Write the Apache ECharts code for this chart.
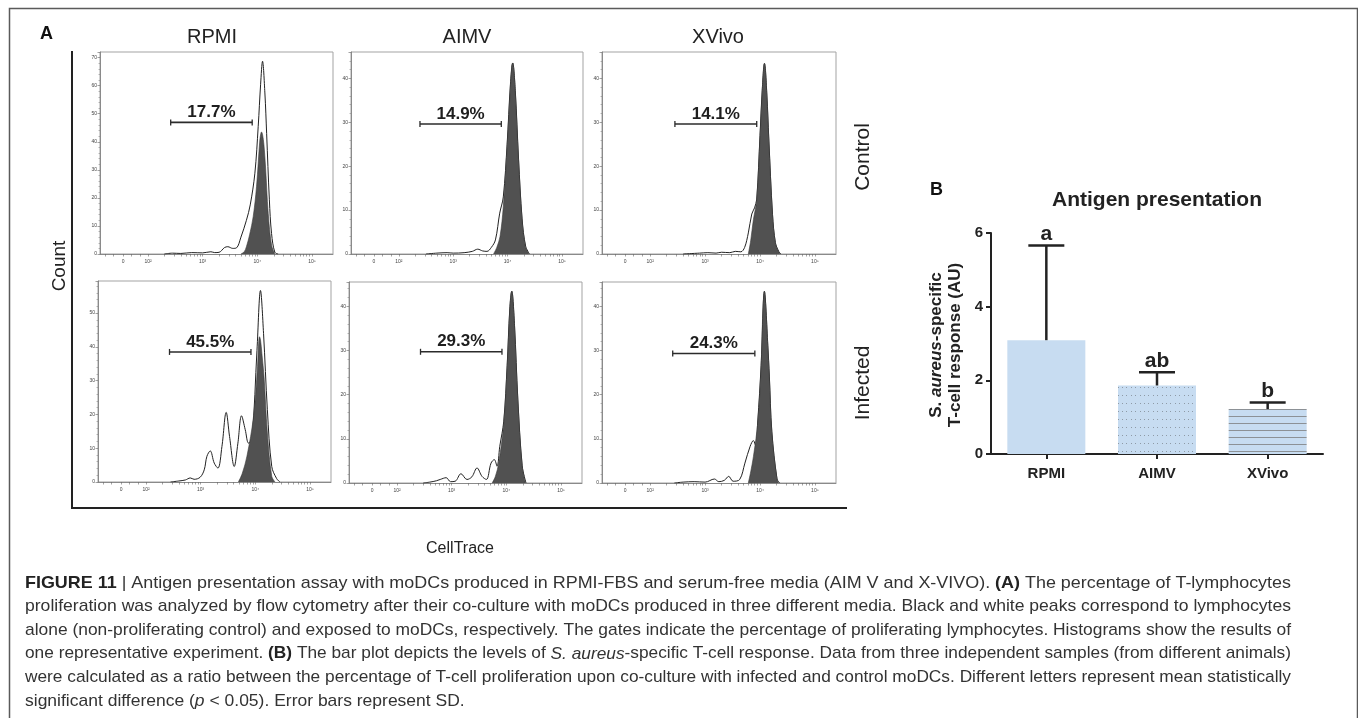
<!DOCTYPE html>
<html><head><meta charset="utf-8">
<script src="https://cdn.jsdelivr.net/npm/echarts@6/dist/echarts.min.js"></script>
<style>html,body{margin:0;padding:0;background:#fff}#c{width:1358px;height:718px}</style>
</head><body><div id="c"></div>
<script>
// ---------------- DATA ----------------
const columnTitles = ['RPMI', 'AIMV', 'XVivo'];
const rowTitles = ['Control', 'Infected'];
// Histograms: [CellTrace position in log10 (biexponential display) units, count]
// dark filled = lymphocytes alone ; white outlined = exposed to moDCs
const rpmiControlAlone = [[3.70,0],[3.76,0.8],[3.80,2.6],[3.86,7],[3.924,13.3],[3.985,24],[4.046,40.7],[4.065,43],[4.077,43.5],[4.095,42.6],[4.12,39],[4.15,31],[4.199,14.5],[4.26,3.2],[4.32,0]];
const rpmiControlExposed = [[2.30,0],[2.45,0.3],[2.60,0.2],[2.80,0.5],[3.00,0.4],[3.15,0.8],[3.22,0.5],[3.30,0.6],[3.40,2.3],[3.46,2.6],[3.55,2.0],[3.62,2.2],[3.70,6],[3.80,12],[3.87,17.5],[3.955,28.8],[4.016,45.5],[4.06,60.5],[4.095,68.7],[4.138,57.4],[4.17,43],[4.22,19.3],[4.26,7.3],[4.32,0.6],[4.38,0]];
const aimvControlAlone = [[3.74,0],[3.80,1.5],[3.86,4],[3.92,10.8],[3.99,24.5],[4.05,38],[4.075,42.8],[4.093,43.5],[4.11,42.5],[4.14,37],[4.20,21.4],[4.265,7.8],[4.326,1.7],[4.39,0]];
const aimvControlExposed = [[2.50,0],[2.70,0.2],[2.887,0.3],[3.00,0.2],[3.20,0.3],[3.35,0.6],[3.45,1.1],[3.54,0.7],[3.62,0.6],[3.70,1.5],[3.775,3.2],[3.854,9.3],[3.92,13],[3.99,25],[4.05,38.5],[4.093,43.5],[4.14,37.2],[4.20,21.6],[4.265,8],[4.33,1.8],[4.40,0]];
const xvivoControlAlone = [[3.787,0],[3.83,3],[3.879,7.8],[3.94,12.3],[4.00,26.7],[4.04,37],[4.065,42.5],[4.081,43.4],[4.10,42],[4.125,36],[4.16,26],[4.228,8.9],[4.28,2.5],[4.34,0.5],[4.37,0]];
const xvivoControlExposed = [[2.60,0],[2.90,0.2],[3.05,0.3],[3.20,0.2],[3.30,0.4],[3.45,0.3],[3.55,0.6],[3.65,0.5],[3.72,1.5],[3.787,4.8],[3.85,9.1],[3.90,10.5],[3.94,12.5],[4.00,27],[4.04,37.2],[4.081,43.4],[4.125,36.2],[4.16,26.2],[4.228,9],[4.28,2.6],[4.34,0.6],[4.38,0]];
const rpmiInfectedAlone = [[3.69,0],[3.76,2.5],[3.846,7.6],[3.967,19.4],[4.04,34.2],[4.06,41],[4.076,43],[4.095,42],[4.12,38],[4.16,31],[4.22,14.5],[4.30,1.7],[4.36,0]];
const rpmiInfectedExposed = [[2.45,0],[2.60,0.3],[2.72,0.6],[2.81,1.2],[2.88,0.8],[2.99,1.4],[3.065,3.6],[3.114,7.6],[3.175,9.2],[3.248,5.6],[3.316,4.1],[3.389,10.5],[3.467,20.6],[3.528,13.5],[3.614,4.6],[3.681,11.5],[3.747,19.6],[3.815,15.5],[3.876,11.5],[3.94,13],[4.03,39],[4.094,56.7],[4.15,44],[4.22,21.4],[4.30,4.6],[4.39,1],[4.45,0]];
const aimvInfectedAlone = [[3.74,0],[3.80,1.5],[3.86,4.5],[3.953,13.6],[4.015,26.4],[4.063,39.3],[4.085,43],[4.10,43.4],[4.12,41.5],[4.15,35.5],[4.21,18.9],[4.29,3.8],[4.35,0]];
const aimvInfectedExposed = [[2.48,0],[2.60,0.2],[2.72,0.5],[2.79,0.8],[2.90,1.2],[2.98,0.3],[3.065,0.4],[3.17,2.1],[3.28,0.8],[3.37,1.4],[3.464,3.4],[3.555,1.5],[3.635,0.8],[3.72,4.5],[3.78,5.3],[3.83,3.8],[3.88,8.3],[3.953,14],[4.015,26.6],[4.063,39.4],[4.10,43.4],[4.15,35.6],[4.21,19],[4.29,3.9],[4.36,0]];
const xvivoInfectedAlone = [[3.787,0],[3.83,2.5],[3.88,6],[3.958,13.6],[4.02,26.4],[4.055,40],[4.08,43.4],[4.105,40],[4.142,31],[4.17,24],[4.215,11.5],[4.31,0.8],[4.34,0]];
const xvivoInfectedExposed = [[2.44,0],[2.60,0.2],[2.80,0.3],[3.00,0.2],[3.17,0.9],[3.25,0.3],[3.35,0.6],[3.43,1.5],[3.51,0.4],[3.63,0.8],[3.725,4.5],[3.82,8.3],[3.88,9.6],[3.92,8.5],[3.958,13.8],[4.02,26.6],[4.08,43.4],[4.142,31.2],[4.17,24.2],[4.215,11.7],[4.31,0.9],[4.36,0]];

// proliferation gates (start, end in log10 units, drawn at count level) and percentages
const gateStart = [2.415, 2.389, 2.45, 2.43, 2.43, 2.41];
const gateEnd   = [3.906, 3.883, 3.94, 3.92, 3.92, 3.906];
const gateLevel = [46.9, 29.6, 29.6, 38.5, 29.7, 29.3];
const gateLabels = ['17.7%', '14.9%', '14.1%', '45.5%', '29.3%', '24.3%'];
const histYMax = [72, 46, 46, 59.5, 45.5, 45.5];

// CellTrace axis ticks
const xMajorTicks = [1.543, 2, 3, 4, 5];
const xMajorLabels = ['0', '10²', '10³', '10⁴', '10⁵'];
const xLinearTicks = [1.213, 1.36, 1.70, 1.853];

// Panel B
const bMedia = ['RPMI', 'AIMV', 'XVivo'];
const bMean = [3.09, 1.86, 1.22];
const bSD = [2.57, 0.36, 0.18];
const bLetters = ['a', 'ab', 'b'];
const bYTicks = [0, 2, 4, 6];

// Caption
const captionLines = [
  [['FIGURE 11', 'b'], [' | Antigen presentation assay with moDCs produced in RPMI-FBS and serum-free media (AIM V and X-VIVO). ', 'n'], ['(A)', 'b'], [' The percentage of T-lymphocytes', 'n']],
  [['proliferation was analyzed by flow cytometry after their co-culture with moDCs produced in three different media. Black and white peaks correspond to lymphocytes', 'n']],
  [['alone (non-proliferating control) and exposed to moDCs, respectively. The gates indicate the percentage of proliferating lymphocytes. Histograms show the results of', 'n']],
  [['one representative experiment. ', 'n'], ['(B)', 'b'], [' The bar plot depicts the levels of ', 'n'], ['S. aureus', 'i'], ['-specific T-cell response. Data from three independent samples (from different animals)', 'n']],
  [['were calculated as a ratio between the percentage of T-cell proliferation upon co-culture with infected and control moDCs. Different letters represent mean statistically', 'n']],
  [['significant difference (', 'n'], ['p', 'i'], [' < 0.05). Error bars represent SD.', 'n']]
];

// ---------------- LAYOUT / STYLE ----------------
const FONT = '"Liberation Sans", Arial, sans-serif';
const histPairs = [
  [rpmiControlAlone, rpmiControlExposed], [aimvControlAlone, aimvControlExposed], [xvivoControlAlone, xvivoControlExposed],
  [rpmiInfectedAlone, rpmiInfectedExposed], [aimvInfectedAlone, aimvInfectedExposed], [xvivoInfectedAlone, xvivoInfectedExposed]
];
const histBoxes = [
  {left: 100, top: 52, width: 233, height: 202},
  {left: 351, top: 52, width: 232, height: 202},
  {left: 602, top: 52, width: 234, height: 202},
  {left: 98, top: 281, width: 233, height: 201},
  {left: 349, top: 282, width: 233, height: 201},
  {left: 602, top: 282, width: 234, height: 201}
];
const xMinorTicks = [];
[2, 3, 4].forEach(d => { for (let k = 2; k <= 9; k++) xMinorTicks.push(d + Math.log10(k)); });
const xAllTicks = xLinearTicks.concat(xMajorTicks, xMinorTicks).sort((a, b) => a - b);

const grids = [], xAxes = [], yAxes = [], series = [];
histBoxes.forEach((b, i) => {
  grids.push(Object.assign({show: true, borderColor: '#a3a3a3', borderWidth: 1, backgroundColor: '#fff'}, b));
  xAxes.push({
    gridIndex: i, type: 'value', min: 1.122, max: 5.384,
    axisLine: {show: true, onZero: false, lineStyle: {color: '#777', width: 0.8}},
    axisTick: {show: true, customValues: xAllTicks, length: 2.5, lineStyle: {color: '#666', width: 0.6}},
    axisLabel: {customValues: xMajorTicks, fontSize: 5, color: '#444', margin: 5, fontFamily: FONT,
      formatter: v => { const j = xMajorTicks.findIndex(t => Math.abs(t - v) < 1e-6); return j >= 0 ? xMajorLabels[j] : ''; }},
    splitLine: {show: false}
  });
  yAxes.push({
    gridIndex: i, type: 'value', min: 0, max: histYMax[i], interval: 10,
    axisLine: {show: true, lineStyle: {color: '#777', width: 0.8}},
    axisTick: {show: true, length: 2.5, lineStyle: {color: '#666', width: 0.6}},
    minorTick: {show: true, splitNumber: 5, length: 1.5, lineStyle: {color: '#777', width: 0.5}},
    axisLabel: {fontSize: 5, color: '#444', margin: 3, showMaxLabel: false, fontFamily: FONT},
    splitLine: {show: false}
  });
  const [alone, exposed] = histPairs[i];
  series.push({
    type: 'line', xAxisIndex: i, yAxisIndex: i, data: exposed, smooth: 0.35, symbol: 'none',
    lineStyle: {color: '#222', width: 1}, areaStyle: {color: '#fff', opacity: 1}, z: 2, silent: true
  });
  series.push({
    type: 'line', xAxisIndex: i, yAxisIndex: i, data: alone, smooth: 0.35, symbol: 'none',
    lineStyle: {color: '#3a3a3a', width: 0.6}, areaStyle: {color: '#515151', opacity: 1}, z: 3, silent: true
  });
  series.push({
    type: 'custom', xAxisIndex: i, yAxisIndex: i, z: 5, silent: true,
    data: [[gateStart[i], gateEnd[i], gateLevel[i]]],
    encode: {x: [0, 1], y: 2},
    renderItem: (params, api) => {
      const p1 = api.coord([api.value(0), api.value(2)]);
      const p2 = api.coord([api.value(1), api.value(2)]);
      const st = {stroke: '#2b2b2b', lineWidth: 1.6};
      return {type: 'group', children: [
        {type: 'line', shape: {x1: p1[0], y1: p1[1], x2: p2[0], y2: p2[1]}, style: st},
        {type: 'line', shape: {x1: p1[0], y1: p1[1] - 3, x2: p1[0], y2: p1[1] + 3}, style: {stroke: '#2b2b2b', lineWidth: 1.3}},
        {type: 'line', shape: {x1: p2[0], y1: p2[1] - 3, x2: p2[0], y2: p2[1] + 3}, style: {stroke: '#2b2b2b', lineWidth: 1.3}},
        {type: 'text', x: (p1[0] + p2[0]) / 2, y: p1[1] - 10,
          style: {text: gateLabels[i], font: 'bold 17px ' + FONT, fill: '#1e1e1e', align: 'center', verticalAlign: 'middle'}}
      ]};
    }
  });
});

// Panel B patterns
const BLUE = '#c7dcf1';
function dotPattern() {
  const c = document.createElement('canvas'); c.width = 22; c.height = 8;
  const g = c.getContext('2d'); g.fillStyle = BLUE; g.fillRect(0, 0, 22, 8);
  g.fillStyle = '#8e9aa6';
  for (let k = 0; k < 5; k++) g.fillRect(Math.round(k * 4.4), 3, 1, 1);
  return c;
}
function linePattern() {
  const c = document.createElement('canvas'); c.width = 8; c.height = 7;
  const g = c.getContext('2d'); g.fillStyle = BLUE; g.fillRect(0, 0, 8, 7);
  g.fillStyle = '#8c9196'; g.fillRect(0, 3, 8, 1);
  return c;
}
const barFills = [BLUE, {image: dotPattern(), repeat: 'repeat'}, {image: linePattern(), repeat: 'repeat'}];

const bi = histBoxes.length;
grids.push({left: 991, top: 233, width: 332, height: 221});
xAxes.push({
  gridIndex: bi, type: 'category', data: bMedia,
  axisLine: {show: true, lineStyle: {color: '#222', width: 2}},
  axisTick: {show: true, alignWithLabel: true, length: 5, lineStyle: {color: '#222', width: 2}},
  axisLabel: {fontSize: 15, fontWeight: 'bold', color: '#222', margin: 12, fontFamily: FONT}
});
yAxes.push({
  gridIndex: bi, type: 'value', min: bYTicks[0], max: bYTicks[bYTicks.length - 1], interval: bYTicks[1] - bYTicks[0],
  axisLine: {show: true, lineStyle: {color: '#222', width: 2}},
  axisTick: {show: true, length: 5, lineStyle: {color: '#222', width: 2}},
  axisLabel: {fontSize: 15, fontWeight: 'bold', color: '#222', margin: 8, fontFamily: FONT},
  splitLine: {show: false}
});
series.push({
  type: 'bar', xAxisIndex: bi, yAxisIndex: bi, barWidth: 78, z: 2, silent: true,
  data: bMean.map((v, i) => ({value: v, itemStyle: {color: barFills[i]}}))
});
series.push({
  type: 'custom', xAxisIndex: bi, yAxisIndex: bi, z: 5, silent: true,
  data: bMean.map((v, i) => [i, v, v + bSD[i]]),
  encode: {x: 0, y: [1, 2]},
  renderItem: (params, api) => {
    const base = api.coord([api.value(0), api.value(1)]);
    const top = api.coord([api.value(0), api.value(2)]);
    const st = {stroke: '#222', lineWidth: 2.5};
    return {type: 'group', children: [
      {type: 'line', shape: {x1: base[0], y1: base[1], x2: top[0], y2: top[1]}, style: st},
      {type: 'line', shape: {x1: top[0] - 18, y1: top[1], x2: top[0] + 18, y2: top[1]}, style: st},
      {type: 'text', x: top[0], y: top[1] - 1,
        style: {text: bLetters[params.dataIndex], font: 'bold 21px ' + FONT, fill: '#222', align: 'center', verticalAlign: 'bottom'}}
    ]};
  }
});

// ---------------- GRAPHICS (labels, frame, caption) ----------------
const graphic = [];
graphic.push({type: 'rect', left: 7, top: 6, shape: {width: 1348, height: 740}, style: {fill: 'none', stroke: '#5a5a5a', lineWidth: 1.5}, silent: true});
graphic.push({type: 'text', x: 40, y: 34, style: {text: 'A', font: 'bold 18px ' + FONT, fill: '#111', verticalAlign: 'middle'}});
graphic.push({type: 'text', x: 930, y: 190, style: {text: 'B', font: 'bold 18px ' + FONT, fill: '#111', verticalAlign: 'middle'}});
const colCenters = [212, 467, 718];
columnTitles.forEach((t, i) => graphic.push({type: 'text', x: colCenters[i], y: 37, style: {text: t, font: '20px ' + FONT, fill: '#222', align: 'center', verticalAlign: 'middle'}}));
const rowCenters = [157, 383];
rowTitles.forEach((t, i) => graphic.push({type: 'text', x: 863, y: rowCenters[i], rotation: Math.PI / 2, style: {text: t, font: '21px ' + FONT, fill: '#222', align: 'center', verticalAlign: 'middle'}}));
graphic.push({type: 'text', x: 60, y: 266, rotation: Math.PI / 2, style: {text: 'Count', font: '19px ' + FONT, fill: '#222', align: 'center', verticalAlign: 'middle'}});
graphic.push({type: 'text', x: 460, y: 549, style: {text: 'CellTrace', font: '16px ' + FONT, fill: '#222', align: 'center', verticalAlign: 'middle'}});
graphic.push({type: 'polyline', shape: {points: [[72, 51], [72, 508], [847, 508]]}, style: {stroke: '#222', lineWidth: 2, fill: 'none'}, silent: true});
graphic.push({type: 'text', x: 1157, y: 200, style: {text: 'Antigen presentation', font: 'bold 21px ' + FONT, fill: '#222', align: 'center', verticalAlign: 'middle'}});
graphic.push({type: 'text', x: 946, y: 345, rotation: Math.PI / 2, style: {
  text: '{b|S. }{bi|aureus}{b|-specific}\n{b|T-cell response (AU)}',
  align: 'center', verticalAlign: 'middle', fill: '#222',
  rich: {b: {font: 'bold 17px ' + FONT, fill: '#222', lineHeight: 18.5}, bi: {font: 'italic bold 17px ' + FONT, fill: '#222', lineHeight: 18.5}}
}});

// caption
const CAP_SIZE = 17;
const capFonts = {n: `${CAP_SIZE}px ${FONT}`, b: `bold ${CAP_SIZE}px ${FONT}`, i: `italic ${CAP_SIZE}px ${FONT}`};
const mctx = document.createElement('canvas').getContext('2d');
const capWidths = captionLines.map(line => line.reduce((s, seg) => { mctx.font = capFonts[seg[1]]; return s + mctx.measureText(seg[0]).width; }, 0));
const CAP_LEFT = 25, CAP_RIGHT = 1291;
const capScales = capWidths.map(w => (CAP_RIGHT - CAP_LEFT) / w);
const avgScale = capScales.slice(0, 5).reduce((a, b) => a + b, 0) / 5;
captionLines.forEach((line, k) => {
  const text = line.map(seg => `{${seg[1]}|${seg[0]}}`).join('');
  graphic.push({type: 'text', x: CAP_LEFT, y: 583 + k * 23.6, scaleX: k < 5 ? capScales[k] : avgScale, silent: true,
    style: {text, verticalAlign: 'middle', align: 'left', fill: '#333',
      rich: {n: {font: capFonts.n, fill: '#333'}, b: {font: capFonts.b, fill: '#222'}, i: {font: capFonts.i, fill: '#333'}}}});
});

const chart = echarts.init(document.getElementById('c'));
chart.setOption({
  animation: false,
  backgroundColor: '#fff',
  textStyle: {fontFamily: FONT},
  grid: grids, xAxis: xAxes, yAxis: yAxes, series, graphic
});
</script></body></html>
